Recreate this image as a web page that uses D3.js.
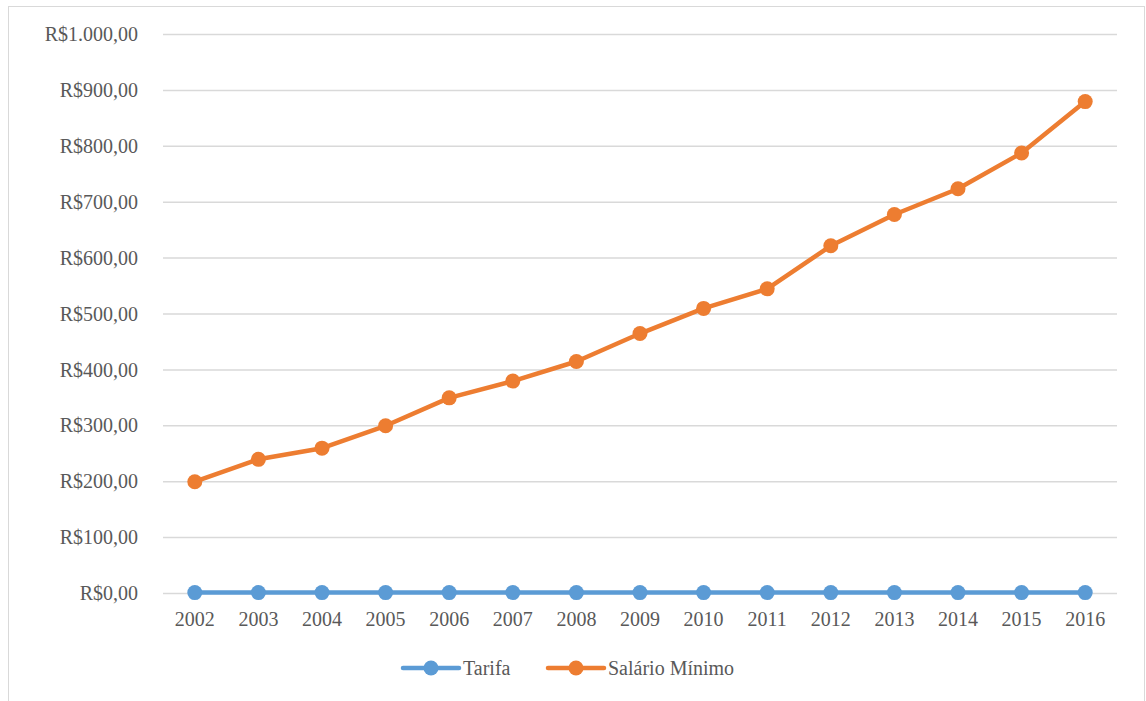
<!DOCTYPE html>
<html>
<head>
<meta charset="utf-8">
<script src="https://cdn.jsdelivr.net/npm/d3@7"></script>
<style>
  body { margin: 0; background: #fff; }
  svg text { fill: #595959; }
</style>
</head>
<body>
<svg id="chart" width="1146" height="701"></svg>
<script>
const years = ["2002","2003","2004","2005","2006","2007","2008","2009","2010","2011","2012","2013","2014","2015","2016"]
const tarifa = [1.6, 1.6, 1.6, 1.6, 1.6, 1.6, 1.6, 1.6, 1.6, 1.6, 1.6, 1.6, 1.6, 1.6, 1.6]
const salario = [200, 240, 260, 300, 350, 380, 415, 465, 510, 545, 622, 678, 724, 788, 880]
const yTicks = [0, 100, 200, 300, 400, 500, 600, 700, 800, 900, 1000]
const seriesNames = ["Tarifa", "Salário Mínimo"]
const seriesColors = ["#5B9BD5", "#ED7D31"]

const svg = d3.select("#chart")
const FONT = "'Times New Roman', Tinos, 'Liberation Serif', 'DejaVu Serif', 'Noto Serif', Times, serif"

// outer chart border
svg.append("rect")
    .attr("x", 8.5).attr("y", 6.5)
    .attr("width", 1136).attr("height", 720)
    .attr("fill", "none")
    .attr("stroke", "#d9d9d9")
    .attr("stroke-width", 1)

const x = d3.scaleBand().domain(years).range([163, 1117])
const y = d3.scaleLinear().domain([0, 1000]).range([593.5, 34.5])
const fmt = (v) => "R$" + d3.format(",.2f")(v).replace(/,/g, "#").replace(".", ",").replace(/#/g, ".")

// gridlines
svg.append("g")
    .selectAll("line")
    .data(yTicks)
    .join("line")
    .attr("x1", 163).attr("x2", 1117)
    .attr("y1", (d) => y(d)).attr("y2", (d) => y(d))
    .attr("stroke", "#d9d9d9")
    .attr("stroke-width", 1.5)

// y labels
svg.append("g")
    .selectAll("text")
    .data(yTicks)
    .join("text")
    .attr("x", 138)
    .attr("y", (d) => y(d))
    .attr("dy", "0.33em")
    .attr("text-anchor", "end")
    .style("font-family", FONT)
    .style("font-size", "20px")
    .text((d) => fmt(d))

// x labels
svg.append("g")
    .selectAll("text")
    .data(years)
    .join("text")
    .attr("x", (d) => x(d) + x.bandwidth() / 2)
    .attr("y", 626)
    .attr("text-anchor", "middle")
    .style("font-family", FONT)
    .style("font-size", "20px")
    .text((d) => d)

const cx = (d, i) => x(years[i]) + x.bandwidth() / 2
const line = d3.line().x(cx).y((d) => y(d))

;[tarifa, salario].forEach((vals, k) => {
    const g = svg.append("g")
    g.append("path")
        .datum(vals)
        .attr("d", line)
        .attr("fill", "none")
        .attr("stroke", seriesColors[k])
        .attr("stroke-width", 4.5)
        .attr("stroke-linejoin", "round")
        .attr("stroke-linecap", "round")
    g.selectAll("circle")
        .data(vals)
        .join("circle")
        .attr("cx", cx)
        .attr("cy", (d) => y(d))
        .attr("r", 7.5)
        .attr("fill", seriesColors[k])
})

// legend
const legendX = [403, 548]
const legend = svg.append("g")
seriesNames.forEach((name, k) => {
    const lg = legend.append("g").attr("transform", `translate(${legendX[k]},668)`)
    lg.append("line")
        .attr("x1", 0).attr("x2", 56)
        .attr("y1", 0).attr("y2", 0)
        .attr("stroke", seriesColors[k])
        .attr("stroke-width", 4.5)
        .attr("stroke-linecap", "round")
    lg.append("circle")
        .attr("cx", 28).attr("cy", 0).attr("r", 7.5)
        .attr("fill", seriesColors[k])
    lg.append("text")
        .attr("x", 60).attr("y", 0)
        .attr("dy", "0.33em")
        .style("font-family", FONT)
        .style("font-size", "20px")
        .text(name)
})
</script>
</body>
</html>
